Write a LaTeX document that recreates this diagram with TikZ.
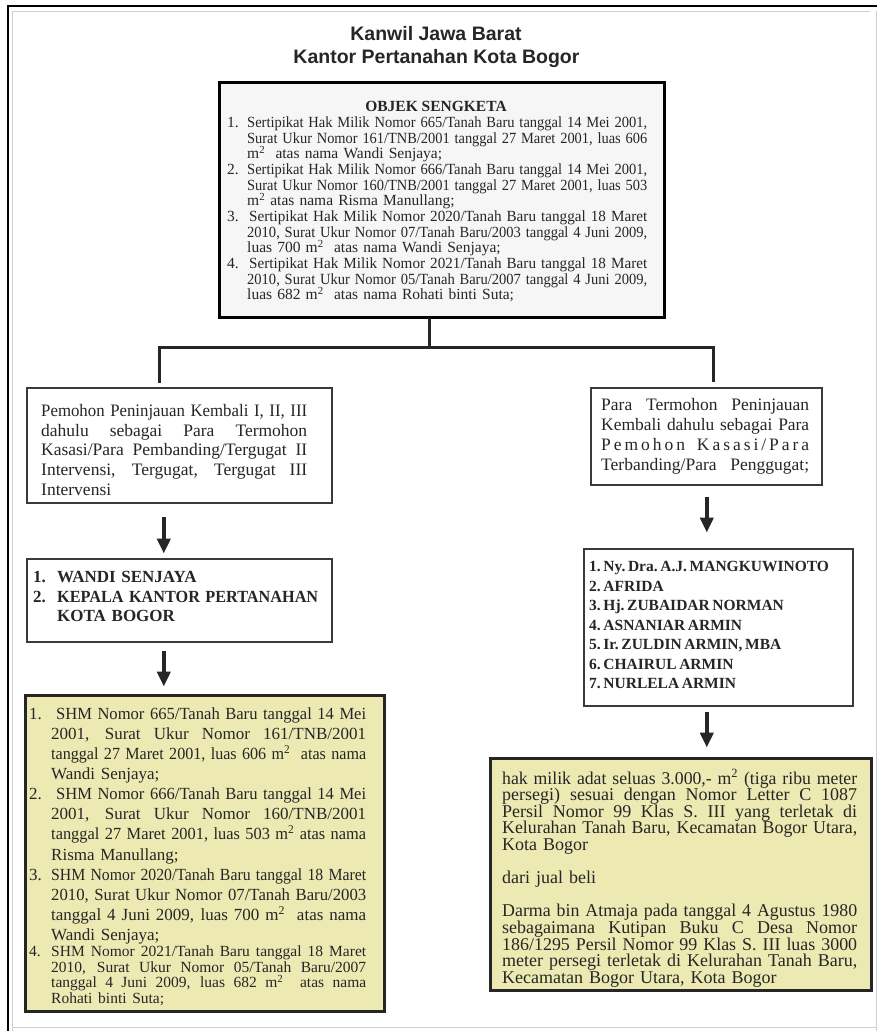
\documentclass[tikz,border=0pt]{standalone}
\usepackage{fontspec}
\setmainfont{Liberation Serif}
\newfontfamily\titlefont{Liberation Sans}
\usetikzlibrary{arrows.meta,calc}
\definecolor{ink}{HTML}{262626}
\definecolor{yel}{HTML}{ECEAB2}
\definecolor{pale}{HTML}{F6F6F6}
\definecolor{bord}{HTML}{3A3A3A}
\definecolor{frm}{HTML}{CFCFCF}
\newlength\numw
\newlength\tmpw
\newcommand\jbox[2]{\sbox0{#2}\ifdim\wd0>#1\relax\resizebox{#1}{\height}{#2}\else{\spaceskip=\fontdimen2\font plus 1fil\relax\xspaceskip=\spaceskip\makebox[#1][s]{#2}}\fi}
\newcommand\JL[1]{\noindent\jbox{\linewidth}{#1}\par}
\newcommand\LL[1]{\noindent\mbox{#1}\par}
\newcommand\NJ[2]{\noindent\tmpw=\dimexpr\linewidth-\numw\relax\makebox[\numw][l]{#1}\jbox{\tmpw}{#2}\par}
\newcommand\NL[2]{\noindent\makebox[\numw][l]{#1}\mbox{#2}\par}
\newcommand\sq{m\textsuperscript{2}}
\newcommand\tight{\lineskiplimit=-100pt\relax}
\tikzset{
  txt/.style={inner sep=0pt, anchor=base west, text=ink},
  wbox/.style={draw=bord, line width=1.6pt, fill=white, inner sep=0pt, anchor=north west},
  kbox/.style={draw=black, line width=3pt, fill=pale, inner sep=0pt, anchor=north west},
  ybox/.style={draw=ink, line width=3pt, fill=yel, inner sep=0pt, anchor=north west},
  conn/.style={line width=3pt, draw=ink, line join=miter, line cap=rect},
  arr/.style={line width=4pt, draw=ink, -{Triangle[width=13pt,length=15pt]}}
}
\begin{document}
\begin{tikzpicture}[x=1pt,y=-1pt]
\useasboundingbox (0,0) rectangle (877,1031);
% page frame
\draw[line width=2pt, black] (7.5,1031) -- (7.5,6) -- (877,6);
\draw[line width=1pt, frm] (12.5,1031) -- (12.5,11.5) -- (870,11.5);
\draw[line width=1pt, frm] (876,11) -- (876,1031);
\draw[line width=1pt, frm] (12.5,1027) -- (877,1027);
% title
\node[inner sep=0pt, anchor=base, text=ink, font=\titlefont\bfseries\fontsize{19.5}{22}\selectfont] (t1) at (436,40) {Kanwil Jawa Barat};
\node[inner sep=0pt, anchor=base, text=ink, font=\titlefont\bfseries\fontsize{19.5}{22}\selectfont] (t2) at (436.5,63) {Kantor Pertanahan Kota Bogor};
% top box
\node[kbox, minimum width=445pt, minimum height=235pt] (top) at (218,81) {};
\node[inner sep=0pt, anchor=base, text=ink, font=\bfseries\fontsize{15.5}{18}\selectfont] (toph) at (436,111) {OBJEK SENGKETA};
\node[txt, text width=420pt, font=\fontsize{15.5}{15.67}\selectfont] (topt) at (227,127.5) {%
\tight\numw=20pt
\NJ{1.}{Sertipikat Hak Milik Nomor 665/Tanah Baru tanggal 14 Mei 2001,}
\NJ{}{Surat Ukur Nomor 161/TNB/2001 tanggal 27 Maret 2001, luas 606}
\NL{}{\sq~~atas nama Wandi Senjaya;}
\NJ{2.}{Sertipikat Hak Milik Nomor 666/Tanah Baru tanggal 14 Mei 2001,}
\NJ{}{Surat Ukur Nomor 160/TNB/2001 tanggal 27 Maret 2001, luas 503}
\NL{}{\sq{} atas nama Risma Manullang;}
\NJ{3.}{\hspace*{2pt}Sertipikat Hak Milik Nomor 2020/Tanah Baru tanggal 18 Maret}
\NJ{}{2010, Surat Ukur Nomor 07/Tanah Baru/2003 tanggal 4 Juni 2009,}
\NL{}{luas 700 \sq~~atas nama Wandi Senjaya;}
\NJ{4.}{\hspace*{2pt}Sertipikat Hak Milik Nomor 2021/Tanah Baru tanggal 18 Maret}
\NJ{}{2010, Surat Ukur Nomor 05/Tanah Baru/2007 tanggal 4 Juni 2009,}
\NL{}{luas 682 \sq~~atas nama Rohati binti Suta;}};
% connectors from top box
\coordinate (split) at (429,347);
\coordinate (lend) at (159,381);
\coordinate (rend) at (713,380);
\draw[conn] (top.south -| split) -- (split);
\draw[conn] (lend) |- (split) -| (rend);
% left column
\node[wbox, minimum width=305pt, minimum height=115pt] (lb1) at (26,387) {};
\node[txt, text width=266pt, font=\fontsize{17.5}{19.6}\selectfont] (lb1t) at (41,416.7) {%
\tight
\JL{Pemohon Peninjauan Kembali I, II, III}
\JL{dahulu sebagai Para Termohon}
\JL{Kasasi/Para Pembanding/Tergugat II}
\JL{Intervensi, Tergugat, Tergugat III}
\LL{Intervensi}};
\node[wbox, minimum width=305pt, minimum height=83pt] (lb2) at (26,558) {};
\node[txt, text width=285pt, font=\bfseries\fontsize{17}{19.3}\selectfont] (lb2t) at (33,582.7) {%
\tight\numw=24pt
\NL{1.}{WANDI SENJAYA}
\NJ{2.}{KEPALA KANTOR PERTANAHAN}
\NL{}{KOTA BOGOR}};
\node[ybox, minimum width=359pt, minimum height=316pt] (ly) at (24,694) {};
\node[txt, text width=337pt, font=\fontsize{17}{20.1}\selectfont] (lyt) at (29,719.3) {%
\tight\numw=22pt
\NJ{1.}{\hspace*{5pt}SHM Nomor 665/Tanah Baru tanggal 14 Mei}
\NJ{}{2001, Surat Ukur Nomor 161/TNB/2001}
\NJ{}{tanggal 27 Maret 2001, luas 606 \sq~~atas nama}
\NL{}{Wandi Senjaya;}
\NJ{2.}{\hspace*{5pt}SHM Nomor 666/Tanah Baru tanggal 14 Mei}
\NJ{}{2001, Surat Ukur Nomor 160/TNB/2001}
\NJ{}{tanggal 27 Maret 2001, luas 503 \sq{} atas nama}
\NL{}{Risma Manullang;}
\NJ{3.}{SHM Nomor 2020/Tanah Baru tanggal 18 Maret}
\NJ{}{2010, Surat Ukur Nomor 07/Tanah Baru/2003}
\NJ{}{tanggal 4 Juni 2009, luas 700 \sq~~atas nama}
\NL{}{Wandi Senjaya;}
\fontsize{15.5}{15.8}\selectfont
\NJ{4.}{SHM Nomor 2021/Tanah Baru tanggal 18 Maret}
\NJ{}{2010, Surat Ukur Nomor 05/Tanah Baru/2007}
\NJ{}{tanggal 4 Juni 2009, luas 682 \sq~~atas nama}
\NL{}{Rohati binti Suta;}};
\draw[arr] ($(lb1.south)+(-15.5,13)$) -- ($(lb1.south)+(-15.5,50)$);
\draw[arr] ($(lb2.south)+(-15.5,8)$) -- ($(lb2.south)+(-15.5,44)$);
% right column
\node[wbox, minimum width=231pt, minimum height=97pt] (rb1) at (590,387) {};
\node[txt, text width=208pt, font=\fontsize{17.5}{20}\selectfont] (rb1t) at (601,410) {%
\tight
\JL{Para Termohon Peninjauan}
\JL{Kembali dahulu sebagai Para}
\JL{P\hfil e\hfil m\hfil o\hfil h\hfil o\hfil n\hskip 0pt plus 4fil K\hfil a\hfil s\hfil a\hfil s\hfil i\hfil /\hfil P\hfil a\hfil r\hfil a}
\JL{Terbanding/Para Penggugat;}};
\node[wbox, minimum width=269pt, minimum height=157pt] (rb2) at (583,548) {};
\node[txt, text width=260pt, font=\bfseries\fontsize{15.5}{19.5}\selectfont] (rb2t) at (589,571.7) {%
\tight\frenchspacing\spaceskip=.17em\relax\xspaceskip=.17em\relax
\LL{1. Ny. Dra. A.J. MANGKUWINOTO}
\LL{2. AFRIDA}
\LL{3. Hj. ZUBAIDAR NORMAN}
\LL{4. ASNANIAR ARMIN}
\LL{5. Ir. ZULDIN ARMIN, MBA}
\LL{6. CHAIRUL ARMIN}
\LL{7. NURLELA ARMIN}};
\node[ybox, minimum width=381pt, minimum height=232pt] (ry) at (489,757) {};
\node[txt, text width=355pt, font=\fontsize{18}{16.6}\selectfont] (ryt) at (502,784) {%
\tight
\JL{hak milik adat seluas 3.000,- \sq{} (tiga ribu meter}
\JL{persegi) sesuai dengan Nomor Letter C 1087}
\JL{Persil Nomor 99 Klas S. III yang terletak di}
\JL{Kelurahan Tanah Baru, Kecamatan Bogor Utara,}
\LL{Kota Bogor}
\LL{}
\LL{dari jual beli}
\LL{}
\JL{Darma bin Atmaja pada tanggal 4 Agustus 1980}
\JL{sebagaimana Kutipan Buku C Desa Nomor}
\JL{186/1295 Persil Nomor 99 Klas S. III luas 3000}
\JL{meter persegi terletak di Kelurahan Tanah Baru,}
\LL{Kecamatan Bogor Utara, Kota Bogor}};
\draw[arr] ($(rb1.south)+(0.5,11)$) -- ($(rb1.south)+(0.5,47)$);
\draw[arr] ($(rb2.south)+(-11.5,5)$) -- ($(rb2.south)+(-11.5,41)$);
\end{tikzpicture}
\end{document}
